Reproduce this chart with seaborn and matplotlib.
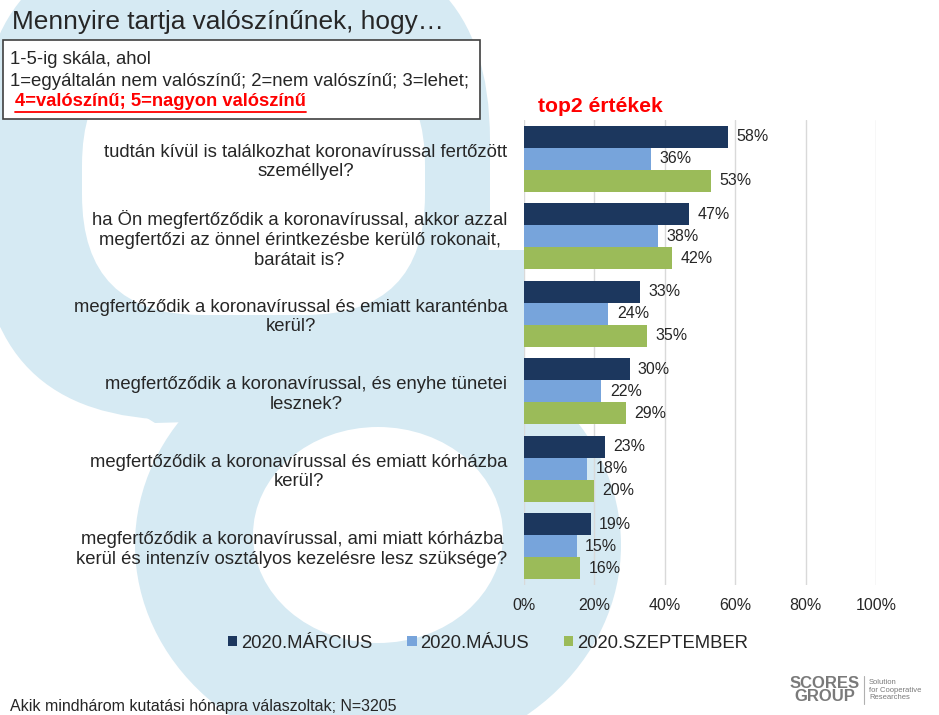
import matplotlib
matplotlib.use('Agg')
import matplotlib.pyplot as plt
import matplotlib.patches as mpatches
from matplotlib.lines import Line2D
import seaborn as sns
import pandas as pd

questions = [
    'tudtán kívül is találkozhat koronavírussal fertőzött\nszeméllyel?',
    'ha Ön megfertőződik a koronavírussal, akkor azzal\nmegfertőzi az önnel érintkezésbe kerülő rokonait,\nbarátait is?',
    'megfertőződik a koronavírussal és emiatt karanténba\nkerül?',
    'megfertőződik a koronavírussal, és enyhe tünetei\nlesznek?',
    'megfertőződik a koronavírussal és emiatt kórházba\nkerül?',
    'megfertőződik a koronavírussal, ami miatt kórházba\nkerül és intenzív osztályos kezelésre lesz szüksége?',
]
periods = ['2020.MÁRCIUS', '2020.MÁJUS', '2020.SZEPTEMBER']
marcius = [58, 47, 33, 30, 23, 19]
majus = [36, 38, 24, 22, 18, 15]
szeptember = [53, 42, 35, 29, 20, 16]
colors = ['#1c375e', '#77a4db', '#9bbb59']
ticks = [0, 20, 40, 60, 80, 100]

rows = []
for period, vals in zip(periods, [marcius, majus, szeptember]):
    for q, v in zip(questions, vals):
        rows.append({'question': q, 'period': period, 'value': v})
df = pd.DataFrame(rows)

sns.set_style('white')
plt.rcParams['font.family'] = ['Liberation Sans', 'DejaVu Sans']

W, H = 939, 715
fig = plt.figure(figsize=(W / 100, H / 100), dpi=100)

# background logo shapes (pixel coordinates, y down)
bg = fig.add_axes([0, 0, 1, 1], zorder=-5)
bg.set_xlim(0, W)
bg.set_ylim(H, 0)
bg.axis('off')
lb = '#d6eaf3'
bg.add_patch(mpatches.FancyBboxPatch((180, 140), 110, 80, boxstyle='round,pad=200',
                                     color=lb, lw=0))
bg.add_patch(mpatches.Ellipse((378, 545), 486, 430, color=lb, lw=0))
bg.add_patch(mpatches.Polygon([(0, 200), (0, 327), (155, 423), (260, 420), (260, 300)],
                              closed=True, color=lb, lw=0))
bg.add_patch(mpatches.Polygon([(380, 250), (524, 250), (524, 430), (380, 430)],
                              closed=True, color=lb, lw=0))
bg.add_patch(mpatches.FancyBboxPatch((202, 165), 103, 30, boxstyle='round,pad=120',
                                     color='white', lw=0))
bg.add_patch(mpatches.Ellipse((378, 535), 250, 216, color='white', lw=0))

ax = fig.add_axes([524 / W, 1 - 585 / H, 352 / W, 465 / H])
ax.patch.set_alpha(0)
sns.barplot(data=df, y='question', x='value', hue='period', orient='h',
            palette=colors, width=0.85, ax=ax, linewidth=0, saturation=1)

for cont, vals in zip(ax.containers, [marcius, majus, szeptember]):
    ax.bar_label(cont, labels=[f'{v}%' for v in vals], padding=6, fontsize=11.5)

ax.set_xlim(0, 100)
ax.set_xticks(ticks)
ax.set_xticklabels([f'{t}%' for t in ticks], fontsize=11.5)
ax.set_yticks(range(len(questions)))
ax.set_yticklabels(questions, fontsize=13.3, multialignment='center')
ax.tick_params(axis='x', length=0, pad=9)
ax.tick_params(axis='y', length=0, pad=12)
ax.set_xlabel('')
ax.set_ylabel('')
ax.grid(axis='x', color='#d9d9d9', lw=1)
ax.set_axisbelow(True)
sns.despine(ax=ax, left=True, bottom=True)

handles, labels = ax.get_legend_handles_labels()
ax.legend_.remove()
fig.legend(handles, labels, loc='center', bbox_to_anchor=(488 / W, 1 - 643 / H),
           ncol=3, frameon=False, fontsize=13.3, handlelength=0.5, handleheight=0.5,
           handletextpad=0.2, columnspacing=1.9)

# title and scale box
fig.text(12 / W, 1 - 22 / H, 'Mennyire tartja valószínűnek, hogy…', fontsize=18.9, va='center')
fig.patches.append(mpatches.Rectangle((3 / W, 1 - 119 / H), 477 / W, 79 / H,
                                      transform=fig.transFigure, facecolor='white',
                                      edgecolor='#404040', lw=1.2, zorder=0))
fig.text(10 / W, 1 - 59 / H, '1-5-ig skála, ahol', fontsize=13.3, va='center')
fig.text(10 / W, 1 - 81 / H, '1=egyáltalán nem valószínű; 2=nem valószínű; 3=lehet;',
         fontsize=13.4, va='center')
red = fig.text(15 / W, 1 - 102 / H, '4=valószínű; 5=nagyon valószínű', fontsize=13.2,
               va='center', color='#ff0000', fontweight='bold')
fig.text(600 / W, 1 - 106 / H, 'top2 értékek', fontsize=15.2, va='center', ha='center',
         color='#ff0000', fontweight='bold')

# footnote and logo
fig.text(10 / W, 1 - 707 / H, 'Akik mindhárom kutatási hónapra válaszoltak; N=3205',
         fontsize=11.5, va='center')
fig.text(825 / W, 1 - 690 / H, 'SCORES\nGROUP', fontsize=12, fontweight='bold', color='#7a7a7a',
         va='center', ha='center', linespacing=0.85)
fig.lines.append(Line2D([864 / W, 864 / W], [1 - 676 / H, 1 - 704 / H],
                        transform=fig.transFigure, color='#b0b0b0', lw=0.8))
fig.text(869 / W, 1 - 690 / H, 'Solution\nfor Cooperative\nResearches', fontsize=5.5,
         color='#7a7a7a', va='center', ha='left', linespacing=1.1)

# underline the red scale text
fig.canvas.draw()
bb = red.get_window_extent()
fig.lines.append(Line2D([bb.x0 / W, bb.x1 / W], [(bb.y0 - 1) / H, (bb.y0 - 1) / H],
                        transform=fig.transFigure, color='#ff0000', lw=1.3))

fig.savefig('out.png', dpi=100)
